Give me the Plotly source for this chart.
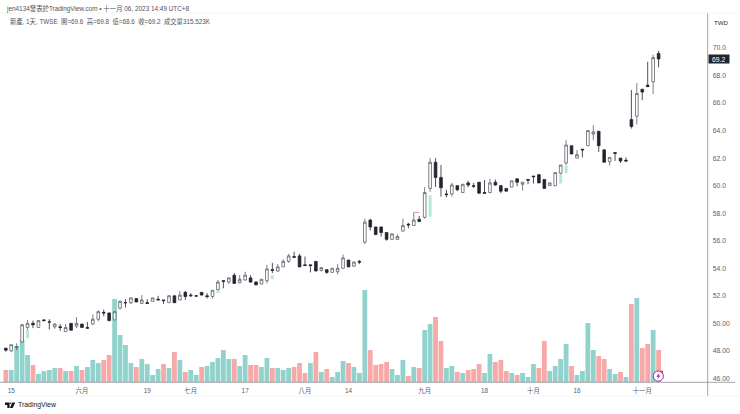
"""Daily candles with volume, TradingView style."""

import pandas as pd
import plotly.graph_objects as go

W, H = 740, 414

HOLIDAYS = ["2023-06-22", "2023-06-23", "2023-08-03", "2023-09-29", "2023-10-09", "2023-10-10"]
dates = [
    d.strftime("%Y-%m-%d")
    for d in pd.bdate_range("2023-05-12", "2023-11-06")
    if d.strftime("%Y-%m-%d") not in HOLIDAYS
]

opens = [
    48.2, 48.0, 48.25, 48.65, 49.7, 50.0, 49.7, 50.25, 50.1, 49.75,
    49.75, 49.4, 50.0, 49.8, 49.95, 49.7, 49.95, 50.3, 50.8, 50.75,
    50.25, 51.1, 51.5, 51.5, 51.8, 51.45, 51.5, 51.6, 51.75, 51.7,
    51.5, 52.0, 51.7, 52.25, 52.05, 52.0, 52.25, 52.0, 51.95, 52.45,
    53.1, 53.0, 53.5, 52.95, 53.15, 53.3, 53.0, 52.85, 53.1, 53.9,
    53.8, 54.1, 54.5, 54.85, 54.9, 54.25, 54.25, 54.5, 53.85, 53.9,
    53.7, 53.75, 54.0, 54.6, 54.15, 54.5, 55.9, 57.5, 57.0, 57.0,
    56.6, 56.1, 56.1, 56.7, 57.2, 57.1, 57.55, 57.7, 59.8, 61.7,
    60.6, 59.4, 59.4, 60.0, 59.5, 60.2, 60.0, 60.25, 59.5, 59.5,
    60.25, 60.0, 59.8, 59.9, 60.5, 60.1, 60.45, 60.7, 60.8, 60.45,
    60.0, 60.0, 60.9, 61.65, 62.9, 62.0, 62.65, 62.9, 63.75, 63.95,
    62.6, 61.75, 62.4, 62.0, 61.85, 64.8, 65.05, 67.0, 67.3, 67.55,
    69.6,
]
highs = [
    48.2, 48.45, 48.55, 49.95, 50.25, 50.2, 50.2, 50.3, 50.3, 50.0,
    49.95, 49.95, 50.0, 50.45, 49.95, 50.1, 50.65, 50.95, 51.0, 50.8,
    50.85, 51.65, 51.75, 51.85, 51.8, 52.05, 51.75, 51.85, 52.0, 51.7,
    52.05, 52.0, 52.35, 52.35, 52.2, 52.05, 52.25, 52.2, 52.4, 53.15,
    53.1, 53.35, 53.65, 53.5, 53.75, 53.5, 53.05, 53.2, 54.25, 54.4,
    54.3, 54.65, 55.05, 55.2, 55.05, 54.85, 54.25, 54.5, 54.05, 53.9,
    54.0, 54.3, 55.0, 54.6, 54.5, 54.6, 57.6, 57.6, 57.0, 57.0,
    56.6, 56.5, 56.45, 57.6, 57.3, 58.05, 57.8, 59.9, 62.0, 62.0,
    61.5, 59.7, 60.2, 60.0, 60.1, 60.35, 60.2, 60.25, 60.4, 60.5,
    60.45, 60.05, 59.8, 60.35, 60.5, 60.25, 60.45, 60.7, 60.8, 60.45,
    60.2, 60.95, 61.5, 63.3, 62.9, 62.6, 62.65, 64.0, 64.4, 63.95,
    62.6, 62.05, 62.4, 62.0, 62.05, 66.95, 67.45, 67.0, 69.0, 69.5,
    69.8,
]
lows = [
    47.95, 47.9, 48.05, 48.6, 49.5, 49.65, 49.7, 50.15, 49.55, 49.6,
    49.45, 49.4, 49.5, 49.65, 49.7, 49.65, 49.9, 50.15, 50.5, 50.15,
    50.25, 51.0, 51.15, 51.4, 51.55, 51.4, 51.45, 51.6, 51.7, 51.4,
    51.5, 51.5, 51.7, 51.7, 51.95, 51.95, 52.05, 51.8, 51.8, 52.3,
    52.55, 52.85, 52.9, 52.9, 53.1, 52.95, 52.75, 52.85, 52.9, 53.65,
    53.75, 54.1, 54.4, 54.8, 54.1, 54.2, 53.7, 53.8, 53.75, 53.6,
    53.7, 53.55, 54.0, 54.1, 54.1, 54.3, 55.75, 56.75, 56.4, 56.3,
    56.0, 56.1, 56.1, 56.7, 56.9, 57.1, 57.35, 57.6, 59.55, 59.9,
    59.2, 59.15, 59.2, 59.6, 59.5, 59.9, 59.85, 59.45, 59.45, 59.45,
    60.0, 59.45, 59.6, 59.9, 59.95, 59.65, 60.1, 60.15, 60.2, 59.8,
    60.0, 60.0, 60.8, 61.5, 62.3, 62.0, 62.05, 62.9, 63.3, 62.45,
    61.7, 61.45, 61.8, 61.65, 61.7, 64.15, 64.45, 66.2, 67.15, 66.65,
    68.6,
]
closes = [
    48.05, 48.45, 48.3, 49.9, 50.0, 49.9, 50.2, 50.2, 50.1, 49.95,
    49.7, 49.7, 49.5, 50.0, 49.7, 49.65, 50.3, 50.85, 50.75, 50.2,
    50.85, 51.6, 51.5, 51.85, 51.55, 51.7, 51.45, 51.85, 51.7, 51.65,
    52.0, 51.5, 52.05, 51.95, 52.0, 51.98, 52.05, 51.95, 52.4, 53.0,
    53.05, 53.3, 52.9, 53.2, 53.5, 53.0, 52.8, 53.2, 53.95, 53.85,
    54.1, 54.5, 54.9, 54.8, 54.1, 54.2, 54.2, 53.8, 54.05, 53.7,
    54.0, 54.0, 54.75, 54.1, 54.45, 54.45, 57.35, 57.0, 56.45, 56.6,
    56.1, 56.5, 56.3, 57.1, 57.15, 57.5, 57.4, 59.5, 61.7, 60.6,
    59.85, 59.35, 60.05, 59.7, 60.1, 60.05, 59.95, 59.45, 59.45, 60.2,
    60.05, 59.6, 59.6, 60.35, 60.25, 60.25, 60.4, 60.65, 60.2, 59.8,
    60.2, 60.95, 61.5, 62.95, 62.3, 62.25, 62.6, 64.0, 63.9, 62.9,
    61.7, 62.05, 62.35, 61.8, 61.8, 64.3, 66.7, 66.8, 67.2, 69.3,
    69.2,
]
# volume in thousands of shares
volumes = [
    118, 118, 355, 414, 266, 168, 79, 108, 118, 138,
    138, 108, 108, 158, 118, 148, 217, 187, 217, 266,
    818, 463, 365, 187, 148, 227, 177, 69, 128, 177,
    138, 296, 217, 99, 118, 69, 148, 158, 197, 237,
    315, 227, 227, 158, 266, 168, 168, 148, 237, 138,
    138, 118, 138, 148, 187, 89, 187, 296, 99, 128,
    49, 99, 207, 187, 148, 89, 907, 315, 168, 177,
    197, 128, 69, 217, 59, 148, 138, 513, 572, 641,
    404, 138, 158, 99, 89, 118, 128, 177, 89, 276,
    197, 217, 108, 89, 69, 89, 49, 177, 138, 404,
    108, 158, 227, 375, 158, 69, 108, 582, 315, 256,
    227, 128, 79, 99, 49, 769, 828, 335, 375, 513,
    315.523,
]
# 1 = teal volume bar, 0 = red volume bar
volume_up = [
    0, 1, 1, 1, 1, 0, 1, 1, 1, 1,
    0, 1, 0, 1, 0, 1, 1, 1, 0, 0,
    1, 1, 1, 1, 0, 1, 1, 1, 1, 0,
    1, 0, 1, 0, 1, 1, 0, 1, 1, 1,
    1, 1, 0, 1, 1, 0, 0, 1, 1, 0,
    1, 1, 1, 0, 0, 0, 1, 0, 1, 0,
    1, 1, 1, 0, 1, 1, 1, 0, 0, 0,
    0, 1, 1, 1, 0, 1, 0, 1, 1, 0,
    0, 1, 1, 0, 1, 0, 0, 0, 1, 1,
    0, 0, 0, 1, 0, 1, 1, 1, 0, 0,
    1, 1, 1, 1, 0, 1, 1, 1, 1, 0,
    0, 1, 1, 0, 1, 0, 1, 0, 0, 1,
    0,
]

x_tick_dates = ["2023-05-15", "2023-06-01", "2023-06-19", "2023-07-03", "2023-07-17", "2023-08-01",
                "2023-08-14", "2023-09-01", "2023-09-18", "2023-10-02", "2023-10-16", "2023-11-01"]
x_tick_text = ["15", "六月", "19", "七月", "17", "八月", "14", "九月", "18", "十月", "16", "十一月"]
y_tick_vals = [46, 48, 50, 52, 54, 56, 58, 60, 62, 64, 66, 68, 70]
y_tick_text = ["46.00", "48.00", "50.00", "52.0", "54.0", "56.0", "58.0", "60.0", "62.0", "64.0", "66.0", "68.0", "70.0"]

# pale green streaks under a few candles
streak_dates = ["2023-05-18", "2023-07-10", "2023-07-24", "2023-09-04", "2023-10-11", "2023-10-12"]
streak_low = [48.9, 52.2, 53.2, 57.75, 60.15, 60.9]
streak_high = [49.5, 52.4, 53.5, 59.3, 60.8, 61.45]

FONT = "Liberation Sans, Noto Sans CJK TC, sans-serif"
TEXT = "#5d606b"
TEAL = "#92d2cc"
PINK = "#f7a9a7"
DARK = "#22252e"
WICK = "#5c5f68"
AXIS = "#8c8e94"


def px(x):
    return x / W


def py(y):
    return 1 - y / H


def path(points):
    return "M " + " L ".join(f"{px(a)},{py(b)}" for a, b in points) + " Z"


streak_x, streak_y = [], []
for d, lo, hi in zip(streak_dates, streak_low, streak_high):
    streak_x += [d, d, None]
    streak_y += [lo, hi, None]

fig = go.Figure()

fig.add_trace(go.Bar(
    x=dates, y=volumes, yaxis="y", showlegend=False,
    marker=dict(color=[TEAL if u else PINK for u in volume_up], line_width=0),
))
fig.add_trace(go.Candlestick(
    x=dates, open=opens, high=highs, low=lows, close=closes, yaxis="y2",
    showlegend=False, whiskerwidth=0,
    increasing=dict(line=dict(color=WICK, width=0.8), fillcolor="#ffffff"),
    decreasing=dict(line=dict(color=DARK, width=0.8), fillcolor=DARK),
))
fig.add_trace(go.Scatter(
    x=streak_x, y=streak_y, yaxis="y2", mode="lines", showlegend=False,
    line=dict(color="#b4ecd2", width=3),
))
fig.add_trace(go.Scatter(
    x=["2023-08-30", "2023-08-31"], y=[58.05, 58.05], yaxis="y2",
    mode="lines", showlegend=False, line=dict(color="#f09a9a", width=1),
))

fig.update_layout(
    width=W, height=H,
    margin=dict(l=0, r=0, t=0, b=0),
    paper_bgcolor="#ffffff", plot_bgcolor="#ffffff",
    font=dict(family=FONT, size=7, color=TEXT),
    bargap=0.12, boxgap=0.3,
    showlegend=False,
    xaxis=dict(
        type="category", categoryorder="array", categoryarray=dates,
        domain=[0, 707.7 / W], range=[-1.066, 129.03],
        rangeslider=dict(visible=False),
        showgrid=False, zeroline=False, showline=False,
        tickmode="array", tickvals=x_tick_dates, ticktext=x_tick_text,
        ticks="", tickangle=0, ticklabelstandoff=4,
        tickfont=dict(size=6.4, color=TEXT),
    ),
    yaxis=dict(
        domain=[1 - 382 / H, 1 - 13 / H], range=[0, 3638],
        visible=False, fixedrange=True,
    ),
    yaxis2=dict(
        overlaying="y", side="right", anchor="x",
        range=[45.74, 72.54], showgrid=False, zeroline=False, showline=False,
        tickmode="array", tickvals=y_tick_vals, ticktext=y_tick_text,
        ticks="", ticklabelstandoff=4,
        tickfont=dict(size=6.8, color=TEXT),
    ),
)

# chart frame and attribution furniture
frame = [
    (0, 382.3, 735, 382.3, AXIS, 0.8),
    (707.7, 13, 707.7, 396, AXIS, 0.8),
    (0, 13, 740, 13, "#f0f0f2", 0.7),
    (0, 396, 740, 396, "#f0f0f2", 0.7),
]
for x0, y0, x1, y1, color, width in frame:
    fig.add_shape(type="line", xref="paper", yref="paper",
                  x0=px(x0), y0=py(y0), x1=px(x1), y1=py(y1),
                  line=dict(color=color, width=width))

# TradingView mark
fig.add_shape(type="path", xref="paper", yref="paper", line_width=0, fillcolor="#131722",
              path=path([(5, 402.5), (9.6, 402.5), (9.6, 408), (7.3, 408), (7.3, 405), (5, 405)]))
fig.add_shape(type="circle", xref="paper", yref="paper", line_width=0, fillcolor="#131722",
              x0=px(9.8), y0=py(402.4), x1=px(11.4), y1=py(404.0))
fig.add_shape(type="path", xref="paper", yref="paper", line_width=0, fillcolor="#131722",
              path=path([(12.3, 402.5), (15.2, 402.5), (12.7, 408), (9.9, 408)]))

# news marker on the last bar
fig.add_shape(type="circle", xref="paper", yref="paper", fillcolor="#ffffff",
              line=dict(color="#9c27b0", width=1),
              x0=px(653.2), y0=py(371), x1=px(663.4), y1=py(381.2))
fig.add_shape(type="path", xref="paper", yref="paper", line_width=0, fillcolor="#9c27b0",
              path=path([(659.6, 372.8), (656.2, 376.8), (658.1, 376.8), (657.2, 379.6), (660.4, 375.4), (658.6, 375.4)]))
fig.add_shape(type="circle", xref="paper", yref="paper", line_width=0, fillcolor="#f23645",
              x0=px(660.6), y0=py(370.6), x1=px(663.2), y1=py(373.2))

header = [
    (5, 8.3, "jen4134發表於TradingView.com • 十一月 06, 2023 14:49 UTC+8", 6.4, "#50535e"),
    (9, 21.3, "新產, 1天, TWSE  開=69.6  高=69.8  低=68.6  收=69.2  成交量315.523K", 6.3, "#50535e"),
    (17, 405.3, "TradingView", 6.9, "#131722"),
]
for x, y, text, size, color in header:
    fig.add_annotation(xref="paper", yref="paper", x=px(x), y=py(y), text=text, showarrow=False,
                       xanchor="left", yanchor="middle", borderpad=0,
                       font=dict(size=size, color=color, family=FONT))

fig.add_annotation(xref="paper", yref="paper", x=px(721), y=py(22), text="TWD", showarrow=False,
                   xanchor="center", yanchor="middle",
                   font=dict(size=6.2, color="#2a2e39", family=FONT))
fig.add_annotation(xref="paper", yref="y2", x=px(708), y=closes[-1], text="69.2", showarrow=False,
                   xanchor="left", yanchor="middle", bgcolor=DARK, borderpad=0, width=19.5, height=8,
                   font=dict(size=6.8, color="#ffffff", family=FONT))

fig.write_html(
    "out.html",
    config=dict(displayModeBar=False),
    post_script="document.body.style.margin='0';",
)
